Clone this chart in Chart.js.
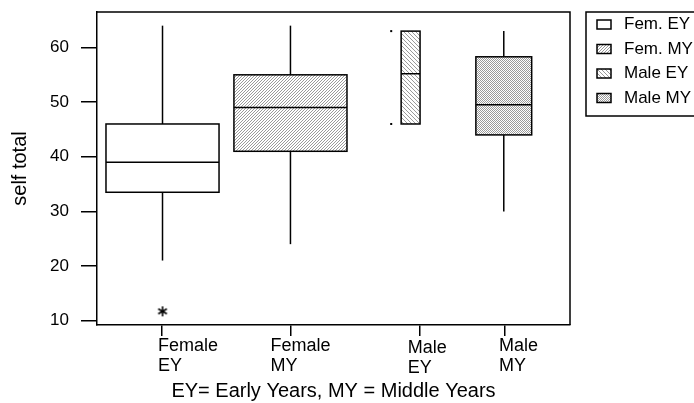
<!DOCTYPE html>
<html>
<head>
<meta charset="utf-8">
<script src="https://cdn.jsdelivr.net/npm/chart.js@4/dist/chart.umd.min.js"></script>
<style>
  body { margin: 0; background: #fff; }
  #wrap { width: 694px; height: 403px; }
</style>
</head>
<body>
<div id="wrap"><canvas id="chart" width="694" height="403"></canvas></div>
<script>
// data
const groups = ['Female EY', 'Female MY', 'Male EY', 'Male MY'];
const tickLabels = [['Female', 'EY'], ['Female', 'MY'], ['Male', 'EY'], ['Male', 'MY']];
const legendLabels = ['Fem. EY', 'Fem. MY', 'Male EY', 'Male MY'];
const whiskerLow = [21, 24, 46, 30];
const q1 = [33.5, 41, 46, 44];
const median = [39, 49, 55.2, 49.5];
const q3 = [46, 55, 63, 58.3];
const whiskerHigh = [64, 64, 63, 63];
const outlierGroup = [0];
const outlierValue = [11.7];
const yTicks = [10, 20, 30, 40, 50, 60];

// layout on the x scale (0..10), kept apart from the data
const boxCenter = [1.385, 4.09, 6.63, 8.6];
const boxWidth = [2.39, 2.39, 0.4, 1.18];
const tickPos = [1.37, 4.1, 6.83, 8.63];
const labelPos = [1.29, 3.67, 6.57, 8.5];
const capOffset = 0.21;

const FONT = '"Liberation Sans", Arial, sans-serif';
Chart.defaults.font.family = FONT;
Chart.defaults.color = '#000';

function makePattern(kind) {
    if (kind === 'plain') return '#ffffff';
    const c = document.createElement('canvas');
    const ctx = c.getContext('2d');
    if (kind === 'hatchUp') {
        c.width = 3; c.height = 3;
        ctx.fillStyle = '#fff'; ctx.fillRect(0, 0, 3, 3);
        ctx.fillStyle = '#9a9a9a';
        for (let i = 0; i < 3; i++) ctx.fillRect(2 - i, i, 1, 1);
    } else if (kind === 'hatchDown') {
        c.width = 4; c.height = 4;
        ctx.fillStyle = '#fff'; ctx.fillRect(0, 0, 4, 4);
        ctx.fillStyle = '#9a9a9a';
        for (let i = 0; i < 4; i++) ctx.fillRect(i, i, 1, 1);
    } else {
        c.width = 2; c.height = 2;
        ctx.fillStyle = '#fff'; ctx.fillRect(0, 0, 2, 2);
        ctx.fillStyle = '#9a9a9a';
        ctx.fillRect(0, 0, 1, 1); ctx.fillRect(1, 1, 1, 1);
    }
    return ctx.createPattern(c, 'repeat');
}

const fills = ['plain', 'hatchUp', 'hatchDown', 'dots'].map(makePattern);

// six-spoke asterisk used for the outlier
function makeAsterisk() {
    const c = document.createElement('canvas');
    c.width = 12; c.height = 12;
    const ctx = c.getContext('2d');
    ctx.strokeStyle = '#000';
    ctx.lineWidth = 1.6;
    [90, 30, 150].forEach(deg => {
        const a = deg * Math.PI / 180;
        ctx.beginPath();
        ctx.moveTo(6 - 5 * Math.cos(a), 6 - 5 * Math.sin(a));
        ctx.lineTo(6 + 5 * Math.cos(a), 6 + 5 * Math.sin(a));
        ctx.stroke();
    });
    return c;
}

function line(ctx, x1, y1, x2, y2) {
    ctx.beginPath();
    ctx.moveTo(x1, y1);
    ctx.lineTo(x2, y2);
    ctx.stroke();
}

const boxPlugin = {
    id: 'boxes',
    beforeDatasetsDraw(chart) {
        const { ctx, scales: { x, y } } = chart;
        ctx.save();
        ctx.strokeStyle = '#000';
        ctx.lineWidth = 1.5;
        groups.forEach((g, i) => {
            const cx = x.getPixelForValue(boxCenter[i]);
            const left = x.getPixelForValue(boxCenter[i] - boxWidth[i] / 2);
            const right = x.getPixelForValue(boxCenter[i] + boxWidth[i] / 2);
            const top = y.getPixelForValue(q3[i]);
            const bottom = y.getPixelForValue(q1[i]);

            if (whiskerHigh[i] > q3[i] || whiskerLow[i] < q1[i]) {
                line(ctx, cx, y.getPixelForValue(whiskerHigh[i]), cx, top);
                line(ctx, cx, bottom, cx, y.getPixelForValue(whiskerLow[i]));
            } else {
                // whiskers collapse onto the box: only small end marks show
                const dx = x.getPixelForValue(boxCenter[i] - boxWidth[i] / 2 - capOffset);
                ctx.fillStyle = '#000';
                ctx.fillRect(dx - 1, y.getPixelForValue(whiskerHigh[i]) - 1, 2, 2);
                ctx.fillRect(dx - 1, y.getPixelForValue(whiskerLow[i]) - 1, 2, 2);
            }

            ctx.fillStyle = fills[i];
            ctx.fillRect(left, top, right - left, bottom - top);
            ctx.strokeRect(left, top, right - left, bottom - top);

            const my = y.getPixelForValue(median[i]);
            line(ctx, left, my, right, my);
        });
        ctx.restore();
    },
    afterDraw(chart) {
        const { ctx, chartArea, scales: { x } } = chart;
        ctx.save();
        ctx.strokeStyle = '#000';
        ctx.lineWidth = 1.5;
        // top and right sides of the frame
        ctx.beginPath();
        ctx.moveTo(chartArea.left, chartArea.top);
        ctx.lineTo(chartArea.right, chartArea.top);
        ctx.lineTo(chartArea.right, chartArea.bottom);
        ctx.stroke();

        // category labels, left aligned, two lines
        ctx.fillStyle = '#000';
        ctx.font = '18px ' + FONT;
        ctx.textAlign = 'left';
        ctx.textBaseline = 'middle';
        tickLabels.forEach((lines, i) => {
            const lx = x.getPixelForValue(labelPos[i]);
            const drop = i === 2 ? 2 : 0;
            lines.forEach((t, j) => ctx.fillText(t, lx, chartArea.bottom + 21 + drop + j * 20));
        });

        // legend box, running off the right edge like the original
        ctx.strokeRect(586, 12, 130, 104);
        ctx.font = '17px ' + FONT;
        legendLabels.forEach((t, i) => {
            const ly = 24.5 + i * 24.5;
            ctx.fillStyle = fills[i];
            ctx.fillRect(597, ly - 4.5, 14, 9);
            ctx.strokeRect(597, ly - 4.5, 14, 9);
            ctx.fillStyle = '#000';
            ctx.fillText(t, 624, ly);
        });
        ctx.restore();
    }
};

const outlierPoints = outlierGroup.map((g, i) => ({ x: boxCenter[g], y: outlierValue[i] }));

new Chart(document.getElementById('chart'), {
    type: 'scatter',
    data: {
        datasets: [{
            label: 'outliers',
            data: outlierPoints,
            pointStyle: makeAsterisk(),
            radius: 6
        }]
    },
    options: {
        responsive: false,
        animation: false,
        layout: { padding: { top: 12, right: 124, left: 0, bottom: 0 } },
        plugins: { legend: { display: false }, tooltip: { enabled: false } },
        scales: {
            x: {
                type: 'linear',
                min: 0,
                max: 10,
                afterBuildTicks: scale => { scale.ticks = tickPos.map(v => ({ value: v })); },
                afterFit: scale => { scale.height = 78; scale.paddingLeft = 0; scale.paddingRight = 0; },
                ticks: { callback: () => '', font: { size: 18 } },
                grid: { drawOnChartArea: false, drawTicks: true, tickLength: 11, color: '#000', lineWidth: 1.5 },
                border: { display: true, color: '#000', width: 1.5 },
                title: {
                    display: true,
                    text: 'EY= Early Years, MY = Middle Years',
                    font: { size: 20 },
                    padding: { top: 0, bottom: 0 }
                }
            },
            y: {
                min: 9.2,
                max: 66.5,
                afterBuildTicks: scale => { scale.ticks = yTicks.map(v => ({ value: v })); },
                afterFit: scale => { scale.width = 97; scale.paddingTop = 0; scale.paddingBottom = 0; },
                ticks: { font: { size: 17 }, padding: 12 },
                grid: { drawOnChartArea: false, drawTicks: true, tickLength: 16, color: '#000', lineWidth: 1.5 },
                border: { display: true, color: '#000', width: 1.5 },
                title: {
                    display: true,
                    text: 'self total',
                    font: { size: 20 },
                    padding: { top: 8, bottom: 0 }
                }
            }
        }
    },
    plugins: [boxPlugin]
});
</script>
</body>
</html>
